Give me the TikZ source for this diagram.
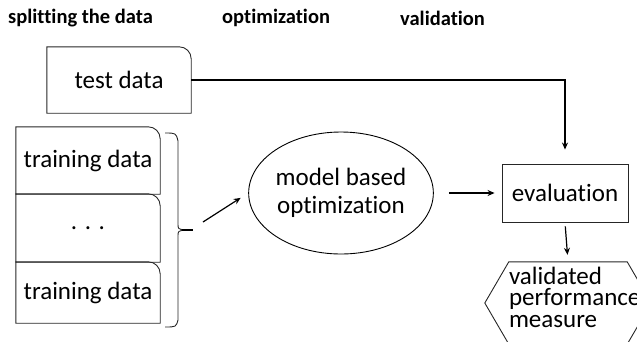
\documentclass[tikz,border=0pt]{standalone}
\usepackage{fontspec}
\setmainfont{Carlito}[Ligatures=NoCommon]
\usetikzlibrary{shapes.geometric}
\usetikzlibrary{arrows.meta}

% box with one rounded corner (top right)
\newcommand{\tabbox}[1]{\draw[boxline] (#1.south west) |- ([xshift=-12pt]#1.north east) arc[start angle=90,end angle=0,radius=12pt] -- (#1.south east) -- cycle;}

\begin{document}
\begin{tikzpicture}[x=1pt,y=1pt,
    boxline/.style={line width=0.9pt, draw=black!85},
    data/.style={minimum width=144pt, inner sep=0pt, font=\fontsize{25}{29}\selectfont},
    head/.style={anchor=west, inner sep=0pt, font=\fontsize{20.5}{24}\selectfont\bfseries},
    flow/.style={-{Stealth[length=7pt,width=6pt]}, line width=1.2pt}]
    \path[use as bounding box, clip] (0,0) rectangle (637,-341);

    % Headings
    \node[head] (h1) at (8,-18) {splitting the data};
    \node[head] (h2) at (222,-18) {optimization};
    \node[head] (h3) at (400,-18) {validation};

    % Data sets
    \node[data, minimum height=66pt] (test) at (119,-80) {test data};
    \node[data, minimum height=67pt] (train1) at (88,-160.5) {training data};
    \node[data, minimum height=68pt] (dots) at (88,-228) {. . .};
    \node[data, minimum height=61pt] (train2) at (88,-292.5) {training data};
    \foreach \n in {test,train1,dots,train2} {\tabbox{\n}}

    % Brace
    \draw[line width=0.9pt, draw=black!85] (165,-133) .. controls (176,-133) .. (178,-141) -- (178,-224)
        .. controls (178,-229) .. (185,-230) .. controls (178,-231) .. (178,-236) -- (178,-320)
        .. controls (176,-327) .. (165,-327);
    \draw[line width=1.6pt] (182,-230) -- (193,-230);
    \coordinate (tip) at (203,-222);

    % Optimization and evaluation
    \node[draw, ellipse, line width=0.9pt, minimum width=163pt, minimum height=122pt, inner sep=0pt,
        align=center, font=\fontsize{25}{28}\selectfont] (opt) at (341,-193) {model based\\optimization};
    \node[draw, boxline, minimum width=126pt, minimum height=58pt, inner sep=0pt,
        font=\fontsize{25}{29}\selectfont] (eval) at (565,-193) {evaluation};

    % Result
    \node[minimum width=118pt, minimum height=82pt, inner sep=0pt] (vpm) at (568,-303) {};
    \draw[boxline] (vpm.north west) -- (vpm.north east) -- ([xshift=24pt]vpm.east) -- (vpm.south east)
        -- (vpm.south west) -- ([xshift=-24pt]vpm.west) -- cycle;
    \node[text width=118pt, align=left, inner sep=0pt, font=\fontsize{25}{21.5}\selectfont] (vpmtext)
        at ([yshift=6pt]vpm.center) {validated\\performance\\measure};

    % Arrows
    \draw[flow, shorten >=9pt] (tip) -- (opt.west);
    \draw[flow, shorten <=15pt, shorten >=7pt] (opt.east) -- (eval.west);
    \draw[flow, shorten >=14pt] (test.east) -| (eval.north);
    \draw[flow, shorten <=4pt, shorten >=7pt] (eval.south) -- (vpm.north);
\end{tikzpicture}
\end{document}
